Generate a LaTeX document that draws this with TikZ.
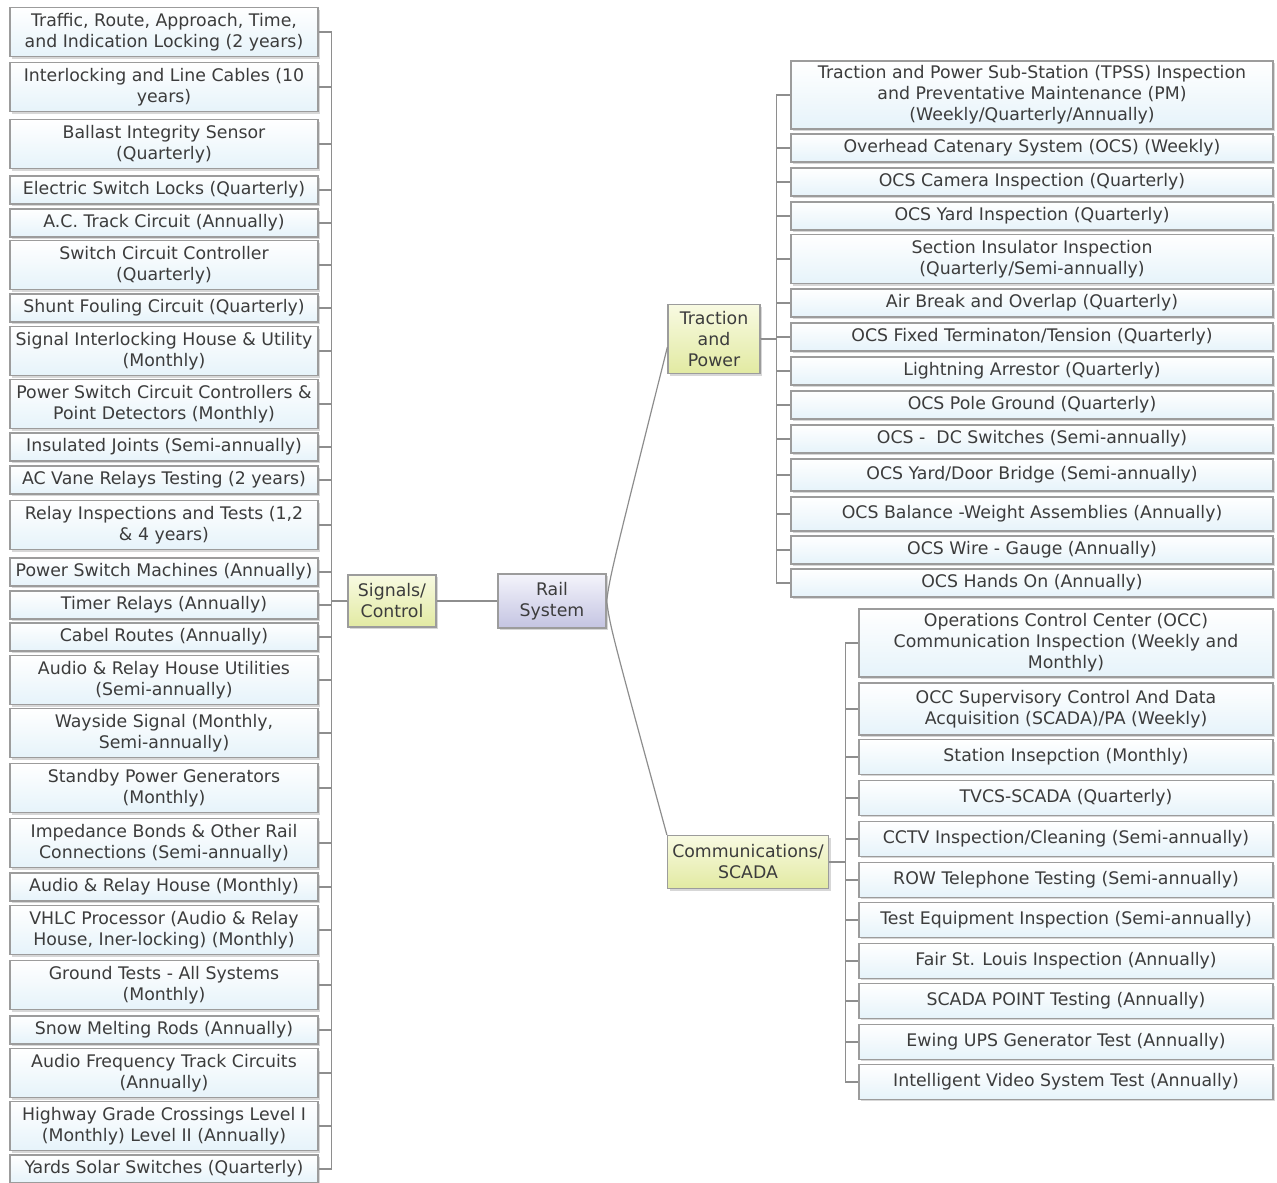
\documentclass[tikz,border=0pt]{standalone}
\usepackage{fontspec}
\setmainfont{DejaVu Sans}
\usetikzlibrary{shadows}
\definecolor{inktext}{HTML}{3C3C3C}
\definecolor{boxline}{HTML}{9C9C9C}
\definecolor{boxblue}{HTML}{E6F3FA}
\definecolor{topicgreen}{HTML}{E2EAA2}
\definecolor{topicpale}{HTML}{F8FAE2}
\definecolor{railblue}{HTML}{C4C4E2}
\definecolor{railpale}{HTML}{F4F4FB}
\definecolor{linkgray}{HTML}{8E8E8E}
\begin{document}
\begin{tikzpicture}[
    x = 0.75pt, y = -0.75pt,
    every node/.style = {font = \fontsize{13}{15.75}\selectfont, text = inktext, align = center, inner sep = 0pt},
    item/.style = {draw = boxline, line width = 0.9pt, top color = white, bottom color = boxblue,
                   drop shadow = {shadow xshift = 1.5pt, shadow yshift = -1.5pt, fill = black!45, opacity = 0.35}},
    lcol/.style = {item, minimum width = 231pt},
    tcol/.style = {item, minimum width = 361.5pt},
    ccol/.style = {item, minimum width = 310.5pt},
    sbox/.style = {minimum height = 21pt},
    dbox/.style = {minimum height = 36.75pt},
    tbox/.style = {minimum height = 51pt},
    cbox/.style = {minimum height = 26pt},
    topic/.style = {draw = boxline, line width = 0.9pt, top color = topicpale, bottom color = topicgreen,
                    drop shadow = {shadow xshift = 1.5pt, shadow yshift = -1.5pt, fill = black!45, opacity = 0.35}},
    link/.style = {draw = linkgray, line width = 0.9pt},
    lfork/.style = {to path = {-- ++(-16,0) |- (\tikztotarget)}},
    rfork/.style = {to path = {-- ++(16,0) |- (\tikztotarget)}}
]
\useasboundingbox (0,0) rectangle (1277,1182);

% centre
\node[draw = boxline, line width = 0.9pt, top color = railpale, bottom color = railblue,
      drop shadow = {shadow xshift = 1.5pt, shadow yshift = -1.5pt, fill = black!45, opacity = 0.35},
      minimum width = 81pt, minimum height = 40.5pt] (rail) at (552,601) {Rail\\System};
\node[topic, minimum width = 66pt, minimum height = 39pt] (sig) at (392,601) {Signals/\\Control};
\node[topic, minimum width = 69pt, minimum height = 51.75pt] (tp) at (714,339) {Traction\\and\\Power};
\node[topic, minimum width = 120.75pt, minimum height = 39.75pt] (cm) at (748,862) {Communications/\\SCADA};

% signals / control
\node[lcol, dbox] (l1) at (164,32) {Traffic, Route, Approach, Time,\\and Indication Locking (2 years)};
\node[lcol, dbox] (l2) at (164,87) {Interlocking and Line Cables (10\\years)};
\node[lcol, dbox] (l3) at (164,144) {Ballast Integrity Sensor\\(Quarterly)};
\node[lcol, sbox] (l4) at (164,190) {Electric Switch Locks (Quarterly)};
\node[lcol, sbox] (l5) at (164,223) {A.C. Track Circuit (Annually)};
\node[lcol, dbox] (l6) at (164,265) {Switch Circuit Controller\\(Quarterly)};
\node[lcol, sbox] (l7) at (164,308) {Shunt Fouling Circuit (Quarterly)};
\node[lcol, dbox] (l8) at (164,351) {Signal Interlocking House \& Utility\\(Monthly)};
\node[lcol, dbox] (l9) at (164,404) {Power Switch Circuit Controllers \&\\Point Detectors (Monthly)};
\node[lcol, sbox] (l10) at (164,447) {Insulated Joints (Semi-annually)};
\node[lcol, sbox] (l11) at (164,480) {AC Vane Relays Testing (2 years)};
\node[lcol, dbox] (l12) at (164,525) {Relay Inspections and Tests (1,2\\\& 4 years)};
\node[lcol, sbox] (l13) at (164,572) {Power Switch Machines (Annually)};
\node[lcol, sbox] (l14) at (164,605) {Timer Relays (Annually)};
\node[lcol, sbox] (l15) at (164,637) {Cabel Routes (Annually)};
\node[lcol, dbox] (l16) at (164,680) {Audio \& Relay House Utilities\\(Semi-annually)};
\node[lcol, dbox] (l17) at (164,733) {Wayside Signal (Monthly,\\Semi-annually)};
\node[lcol, dbox] (l18) at (164,788) {Standby Power Generators\\(Monthly)};
\node[lcol, dbox] (l19) at (164,843) {Impedance Bonds \& Other Rail\\Connections (Semi-annually)};
\node[lcol, sbox] (l20) at (164,887) {Audio \& Relay House (Monthly)};
\node[lcol, dbox] (l21) at (164,930) {VHLC Processor (Audio \& Relay\\House, Iner-locking) (Monthly)};
\node[lcol, dbox] (l22) at (164,985) {Ground Tests - All Systems\\(Monthly)};
\node[lcol, sbox] (l23) at (164,1030) {Snow Melting Rods (Annually)};
\node[lcol, dbox] (l24) at (164,1073) {Audio Frequency Track Circuits\\(Annually)};
\node[lcol, dbox] (l25) at (164,1126) {Highway Grade Crossings Level I\\(Monthly) Level II (Annually)};
\node[lcol, sbox] (l26) at (164,1169) {Yards Solar Switches (Quarterly)};

% traction and power
\node[tcol, tbox] (t1) at (1032,95) {Traction and Power Sub-Station (TPSS) Inspection\\and Preventative Maintenance (PM)\\(Weekly/Quarterly/Annually)};
\node[tcol, sbox] (t2) at (1032,148) {Overhead Catenary System (OCS) (Weekly)};
\node[tcol, sbox] (t3) at (1032,182) {OCS Camera Inspection (Quarterly)};
\node[tcol, sbox] (t4) at (1032,216) {OCS Yard Inspection (Quarterly)};
\node[tcol, dbox] (t5) at (1032,259) {Section Insulator Inspection\\(Quarterly/Semi-annually)};
\node[tcol, sbox] (t6) at (1032,303) {Air Break and Overlap (Quarterly)};
\node[tcol, sbox] (t7) at (1032,337) {OCS Fixed Terminaton/Tension (Quarterly)};
\node[tcol, sbox] (t8) at (1032,371) {Lightning Arrestor (Quarterly)};
\node[tcol, sbox] (t9) at (1032,405) {OCS Pole Ground (Quarterly)};
\node[tcol, sbox] (t10) at (1032,439) {OCS -~ DC Switches (Semi-annually)};
\node[tcol, cbox, minimum height = 24pt] (t11) at (1032,475) {OCS Yard/Door Bridge (Semi-annually)};
\node[tcol, cbox, minimum height = 25.5pt] (t12) at (1032,514) {OCS Balance -Weight Assemblies (Annually)};
\node[tcol, sbox] (t13) at (1032,550) {OCS Wire - Gauge (Annually)};
\node[tcol, sbox] (t14) at (1032,583) {OCS Hands On (Annually)};

% communications / scada
\node[ccol, tbox] (c1) at (1066,643) {Operations Control Center (OCC)\\Communication Inspection (Weekly and\\Monthly)};
\node[ccol, dbox, minimum height = 39pt] (c2) at (1066,709) {OCC Supervisory Control And Data\\Acquisition (SCADA)/PA (Weekly)};
\node[ccol, cbox] (c3) at (1066,757) {Station Insepction (Monthly)};
\node[ccol, cbox] (c4) at (1066,798) {TVCS-SCADA (Quarterly)};
\node[ccol, cbox] (c5) at (1066,839) {CCTV Inspection/Cleaning (Semi-annually)};
\node[ccol, cbox] (c6) at (1066,880) {ROW Telephone Testing (Semi-annually)};
\node[ccol, cbox] (c7) at (1066,920) {Test Equipment Inspection (Semi-annually)};
\node[ccol, cbox] (c8) at (1066,961) {Fair St. Louis Inspection (Annually)};
\node[ccol, cbox] (c9) at (1066,1001) {SCADA POINT Testing (Annually)};
\node[ccol, cbox] (c10) at (1066,1042) {Ewing UPS Generator Test (Annually)};
\node[ccol, cbox] (c11) at (1066,1082) {Intelligent Video System Test (Annually)};

% links
\path[link]
(rail.west) edge (sig.east)
;
\draw[link] (rail.east) .. controls ([xshift=3pt]rail.north east) .. ([yshift=-6pt]tp.west);
\draw[link] (rail.east) .. controls ([xshift=3pt]rail.south east) .. (cm.north west);
\path[link]
(sig.west) edge[lfork] (l1.east)
(sig.west) edge[lfork] (l2.east)
(sig.west) edge[lfork] (l3.east)
(sig.west) edge[lfork] (l4.east)
(sig.west) edge[lfork] (l5.east)
(sig.west) edge[lfork] (l6.east)
(sig.west) edge[lfork] (l7.east)
(sig.west) edge[lfork] (l8.east)
(sig.west) edge[lfork] (l9.east)
(sig.west) edge[lfork] (l10.east)
(sig.west) edge[lfork] (l11.east)
(sig.west) edge[lfork] (l12.east)
(sig.west) edge[lfork] (l13.east)
(sig.west) edge[lfork] (l14.east)
(sig.west) edge[lfork] (l15.east)
(sig.west) edge[lfork] (l16.east)
(sig.west) edge[lfork] (l17.east)
(sig.west) edge[lfork] (l18.east)
(sig.west) edge[lfork] (l19.east)
(sig.west) edge[lfork] (l20.east)
(sig.west) edge[lfork] (l21.east)
(sig.west) edge[lfork] (l22.east)
(sig.west) edge[lfork] (l23.east)
(sig.west) edge[lfork] (l24.east)
(sig.west) edge[lfork] (l25.east)
(sig.west) edge[lfork] (l26.east)
;
\path[link]
(tp.east) edge[rfork] (t1.west)
(tp.east) edge[rfork] (t2.west)
(tp.east) edge[rfork] (t3.west)
(tp.east) edge[rfork] (t4.west)
(tp.east) edge[rfork] (t5.west)
(tp.east) edge[rfork] (t6.west)
(tp.east) edge[rfork] (t7.west)
(tp.east) edge[rfork] (t8.west)
(tp.east) edge[rfork] (t9.west)
(tp.east) edge[rfork] (t10.west)
(tp.east) edge[rfork] (t11.west)
(tp.east) edge[rfork] (t12.west)
(tp.east) edge[rfork] (t13.west)
(tp.east) edge[rfork] (t14.west)
;
\path[link]
(cm.east) edge[rfork] (c1.west)
(cm.east) edge[rfork] (c2.west)
(cm.east) edge[rfork] (c3.west)
(cm.east) edge[rfork] (c4.west)
(cm.east) edge[rfork] (c5.west)
(cm.east) edge[rfork] (c6.west)
(cm.east) edge[rfork] (c7.west)
(cm.east) edge[rfork] (c8.west)
(cm.east) edge[rfork] (c9.west)
(cm.east) edge[rfork] (c10.west)
(cm.east) edge[rfork] (c11.west)
;
\end{tikzpicture}
\end{document}
